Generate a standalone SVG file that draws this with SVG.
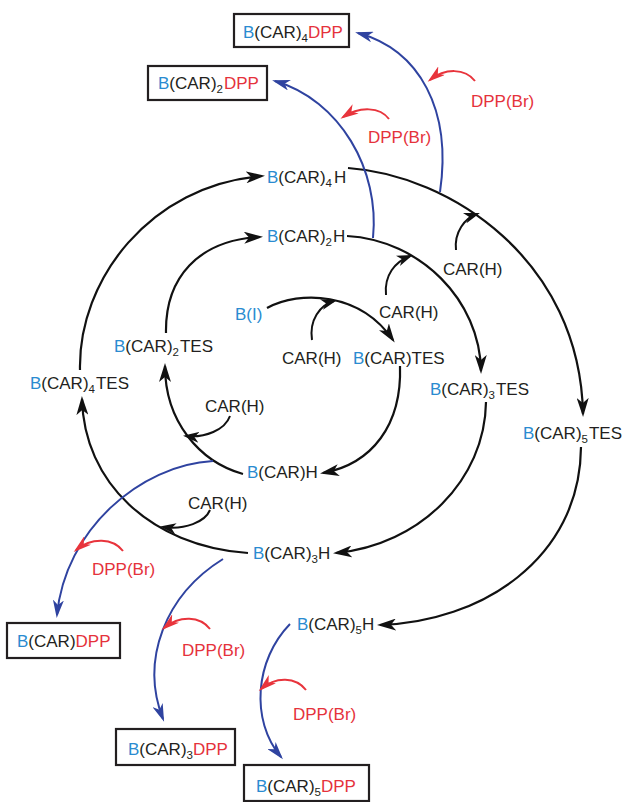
<svg xmlns="http://www.w3.org/2000/svg" width="624" height="802" viewBox="0 0 624 802">
<style>
text{font-family:"Liberation Sans",Arial,sans-serif;font-size:17px;fill:#231f20}
.b{fill:#2a8bd0}
.r{fill:#e5323b}
.s{font-size:11.5px}
.box{fill:#fff;stroke:#231f20;stroke-width:2.2}
.k{fill:none;stroke:#111;stroke-width:2.2;marker-end:url(#ak)}
.ks{fill:none;stroke:#111;stroke-width:2;marker-end:url(#aks)}
.bl{fill:none;stroke:#2f43a0;stroke-width:2;marker-end:url(#ab)}
.rd{fill:none;stroke:#e8343c;stroke-width:2;marker-end:url(#ar)}
</style>
<defs>
<marker id="ak" viewBox="0 0 19 12" markerWidth="19" markerHeight="12" refX="16" refY="6" orient="auto" markerUnits="userSpaceOnUse"><path d="M0,0 L19,6 L0,12 L5,6 Z" fill="#111"/></marker>
<marker id="aks" viewBox="0 0 16 11" markerWidth="16" markerHeight="11" refX="13" refY="5.5" orient="auto" markerUnits="userSpaceOnUse"><path d="M0,0 L16,5.5 L0,11 L4.5,5.5 Z" fill="#111"/></marker>
<marker id="ab" viewBox="0 0 18 11" markerWidth="18" markerHeight="11" refX="15" refY="5.5" orient="auto" markerUnits="userSpaceOnUse"><path d="M0,0 L18,5.5 L0,11 L5,5.5 Z" fill="#2f43a0"/></marker>
<marker id="ar" viewBox="0 0 18 11" markerWidth="18" markerHeight="11" refX="15" refY="5.5" orient="auto" markerUnits="userSpaceOnUse"><path d="M0,0 L18,5.5 L0,11 L5,5.5 Z" fill="#e8343c"/></marker>
</defs>

<g id="connectors">
<!-- black main spiral -->
<path class="k" d="M267,308 C300,290 360,292 393,340"/>
<path class="k" d="M400,366 C402,425 372,464 323,473"/>
<path class="k" d="M243,474 C200,462 165,422 165,366"/>
<path class="k" d="M166,333 C165,278 198,240 260,237"/>
<path class="k" d="M347,236 C420,240 480,300 481,371"/>
<path class="k" d="M486,402 C485,480 420,545 336,553"/>
<path class="k" d="M248,553 C150,546 84,482 82,399"/>
<path class="k" d="M80,370 C78,280 150,185 262,176"/>
<path class="k" d="M348,168 C450,175 580,260 583,414"/>
<path class="k" d="M581,447 C580,560 480,622 380,625"/>
<!-- CAR(H) reagent arrows -->
<path class="ks" d="M312,340 C309,320 320,305 334,301"/>
<path class="ks" d="M230,416 C225,430 205,438 186,436"/>
<path class="ks" d="M386,295 C384,275 395,262 410,256"/>
<path class="ks" d="M210,510 C205,522 185,530 163,527"/>
<path class="ks" d="M456,250 C454,232 465,218 477,214"/>
<!-- blue arrows -->
<path class="bl" d="M373,238 C380,170 340,100 275,81"/>
<path class="bl" d="M440,192 C452,110 420,50 358,33"/>
<path class="bl" d="M213,461 C140,465 65,530 57,615"/>
<path class="bl" d="M223,559 C165,595 140,660 163,719"/>
<path class="bl" d="M290,624 C255,660 250,720 281,757"/>
<!-- red arrows -->
<path class="rd" d="M475,81 C465,68 445,68 430,80"/>
<path class="rd" d="M389,119 C380,107 360,106 343,117"/>
<path class="rd" d="M123,551 C113,538 92,537 76,550"/>
<path class="rd" d="M210,629 C200,616 180,615 164,628"/>
<path class="rd" d="M306,690 C296,677 276,676 261,689"/>
</g>

<g id="n-BI"><text x="235" y="320" class="b">B(I)</text></g>
<g id="n-BCARTES"><text x="353" y="364"><tspan class="b">B</tspan>(CAR)TES</text></g>
<g id="n-BCARH"><text x="247" y="478"><tspan class="b">B</tspan>(CAR)H</text></g>
<g id="n-BCAR2TES"><text x="114" y="352"><tspan class="b">B</tspan>(CAR)<tspan class="s" dy="4">2</tspan><tspan dy="-4" dx="1">TES</tspan></text></g>
<g id="n-BCAR2H"><text x="267" y="242"><tspan class="b">B</tspan>(CAR)<tspan class="s" dy="4">2</tspan><tspan dy="-4" dx="1">H</tspan></text></g>
<g id="n-BCAR3TES"><text x="430" y="395"><tspan class="b">B</tspan>(CAR)<tspan class="s" dy="4">3</tspan><tspan dy="-4" dx="1">TES</tspan></text></g>
<g id="n-BCAR3H"><text x="253" y="559"><tspan class="b">B</tspan>(CAR)<tspan class="s" dy="4">3</tspan><tspan dy="-4">H</tspan></text></g>
<g id="n-BCAR4TES"><text x="30" y="389"><tspan class="b">B</tspan>(CAR)<tspan class="s" dy="4">4</tspan><tspan dy="-4" dx="1">TES</tspan></text></g>
<g id="n-BCAR4H"><text x="267" y="183"><tspan class="b">B</tspan>(CAR)<tspan class="s" dy="4">4</tspan><tspan dy="-4" dx="2">H</tspan></text></g>
<g id="n-BCAR5TES"><text x="523" y="439"><tspan class="b">B</tspan>(CAR)<tspan class="s" dy="4">5</tspan><tspan dy="-4" dx="1">TES</tspan></text></g>
<g id="n-BCAR5H"><text x="297" y="630"><tspan class="b">B</tspan>(CAR)<tspan class="s" dy="4">5</tspan><tspan dy="-4">H</tspan></text></g>

<g id="p-BCAR4DPP"><rect class="box" x="234" y="14" width="115" height="33"/><text x="243" y="38"><tspan class="b">B</tspan>(CAR)<tspan class="s" dy="4">4</tspan><tspan class="r" dy="-4">DPP</tspan></text></g>
<g id="p-BCAR2DPP"><rect class="box" x="148" y="66" width="119" height="34"/><text x="158" y="89"><tspan class="b">B</tspan>(CAR)<tspan class="s" dy="4">2</tspan><tspan class="r" dy="-4" dx="1">DPP</tspan></text></g>
<g id="p-BCARDPP"><rect class="box" x="7" y="623" width="113" height="35"/><text x="17" y="647"><tspan class="b">B</tspan>(CAR)<tspan class="r">DPP</tspan></text></g>
<g id="p-BCAR3DPP"><rect class="box" x="116" y="729" width="119" height="36"/><text x="128" y="755"><tspan class="b">B</tspan>(CAR)<tspan class="s" dy="4">3</tspan><tspan class="r" dy="-4">DPP</tspan></text></g>
<g id="p-BCAR5DPP"><rect class="box" x="244" y="765" width="125" height="36"/><text x="256" y="792"><tspan class="b">B</tspan>(CAR)<tspan class="s" dy="4">5</tspan><tspan class="r" dy="-4">DPP</tspan></text></g>

<g id="reagents">
<text x="282" y="364">CAR(H)</text>
<text x="379" y="318">CAR(H)</text>
<text x="443" y="275">CAR(H)</text>
<text x="205" y="412">CAR(H)</text>
<text x="188" y="509">CAR(H)</text>
<text x="471" y="107" class="r">DPP(Br)</text>
<text x="368" y="143" class="r">DPP(Br)</text>
<text x="92" y="575" class="r">DPP(Br)</text>
<text x="182" y="656" class="r">DPP(Br)</text>
<text x="293" y="720" class="r">DPP(Br)</text>
</g>
</svg>
